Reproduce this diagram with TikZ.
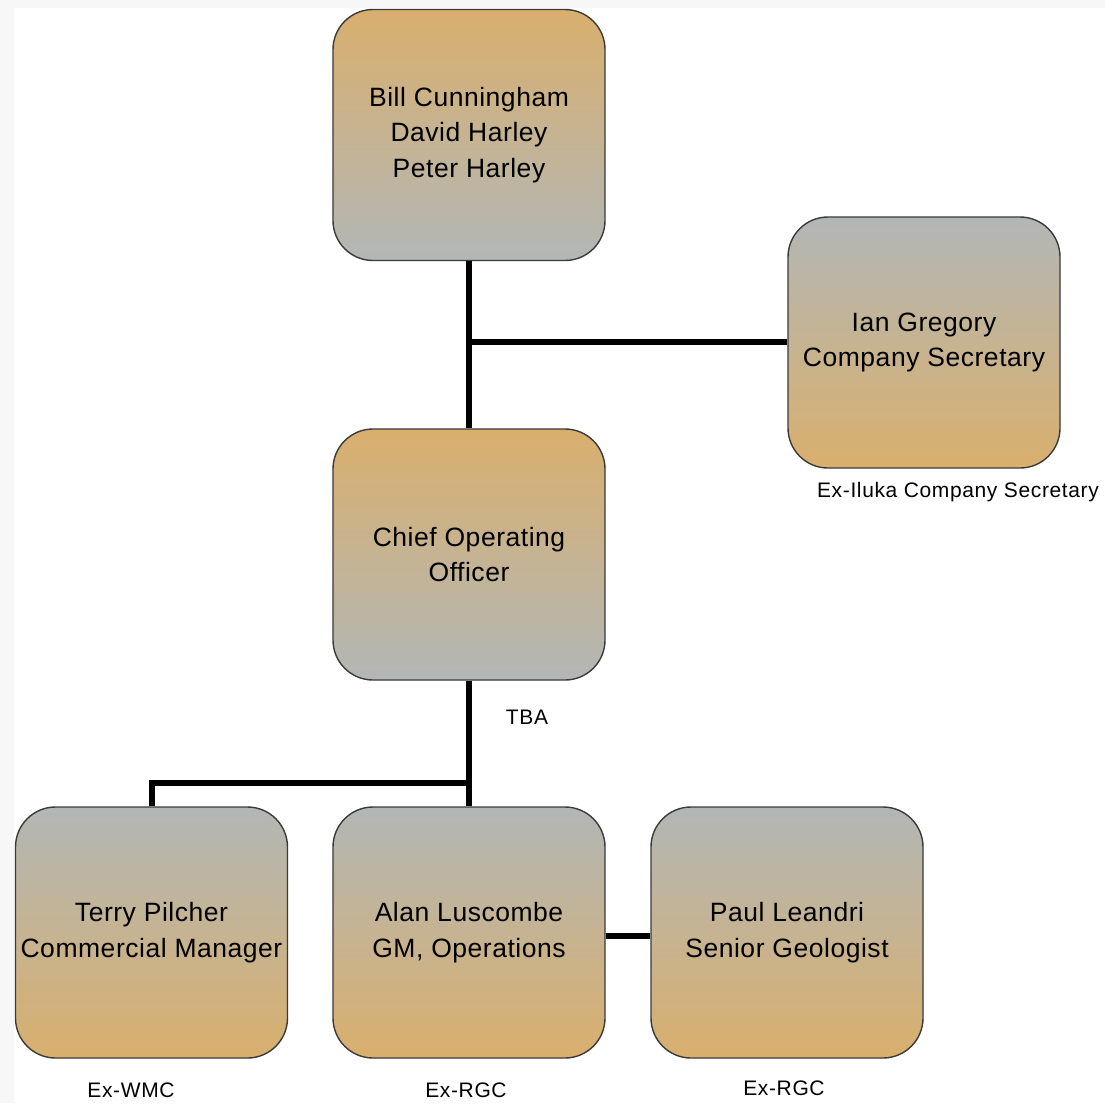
\documentclass[tikz,border=0pt]{standalone}
\usepackage{fontspec}
\setmainfont{Liberation Sans}
\newfontfamily\boxfont[LetterSpace=2]{Liberation Sans}
\newfontfamily\lblfont[LetterSpace=3]{Liberation Sans}
\definecolor{tanc}{HTML}{D9AF6D}
\definecolor{grayc}{HTML}{B2B7B6}
\definecolor{edgec}{HTML}{3A3A3A}
\definecolor{bgc}{HTML}{F7F7F7}
\begin{document}
\begin{tikzpicture}[x=1pt,y=1pt,
  orgbox/.style={draw=edgec, line width=1.4pt, rounded corners=40pt,
    minimum width=272pt, minimum height=251pt, inner sep=0pt,
    align=center, font=\boxfont\fontsize{26.5}{35.5}\selectfont},
  tandown/.style={top color=tanc, bottom color=grayc},
  grayup/.style={top color=grayc, bottom color=tanc},
  conn/.style={line width=6pt, black},
  lbl/.style={font=\lblfont\fontsize{21}{24}\selectfont, inner sep=0pt}]
\useasboundingbox (0,0) rectangle (1105,-1103);
\fill[bgc] (0,0) rectangle (1105,-1103);
\fill[white] (14,-8) rectangle (1105,-1103);
\coordinate (j1) at (469,-342);
\coordinate (j2) at (469,-783);
\node[orgbox, tandown] (board) at (469,-135) {Bill Cunningham\\David Harley\\Peter Harley};
\node[orgbox, grayup] (ian) at (924,-342.5) {Ian Gregory\\Company Secretary};
\node[orgbox, tandown] (coo) at (469,-554.5) {Chief Operating\\Officer};
\node[orgbox, grayup] (terry) at (151.5,-932.5) {Terry Pilcher\\Commercial Manager};
\node[orgbox, grayup] (alan) at (469,-932.5) {Alan Luscombe\\GM, Operations};
\node[orgbox, grayup] (paul) at (787,-932.5) {Paul Leandri\\Senior Geologist};
\draw[conn] (board.south) -- (coo.north);
\draw[conn] (j1) -- (ian.west |- j1);
\draw[conn] (coo.south) -- (j2) -- (alan.north);
\draw[conn] (j2) -| (terry.north);
\draw[conn] (alan.east |- 0,-936) -- (paul.west |- 0,-936);
\node[lbl] (l1) at (958,-492) {Ex-Iluka Company Secretary};
\node[lbl] (l2) at (527,-717) {TBA};
\node[lbl] (l3) at (131,-1090) {Ex-WMC};
\node[lbl] (l4) at (466,-1090) {Ex-RGC};
\node[lbl] (l5) at (784,-1088) {Ex-RGC};
\end{tikzpicture}
\end{document}
